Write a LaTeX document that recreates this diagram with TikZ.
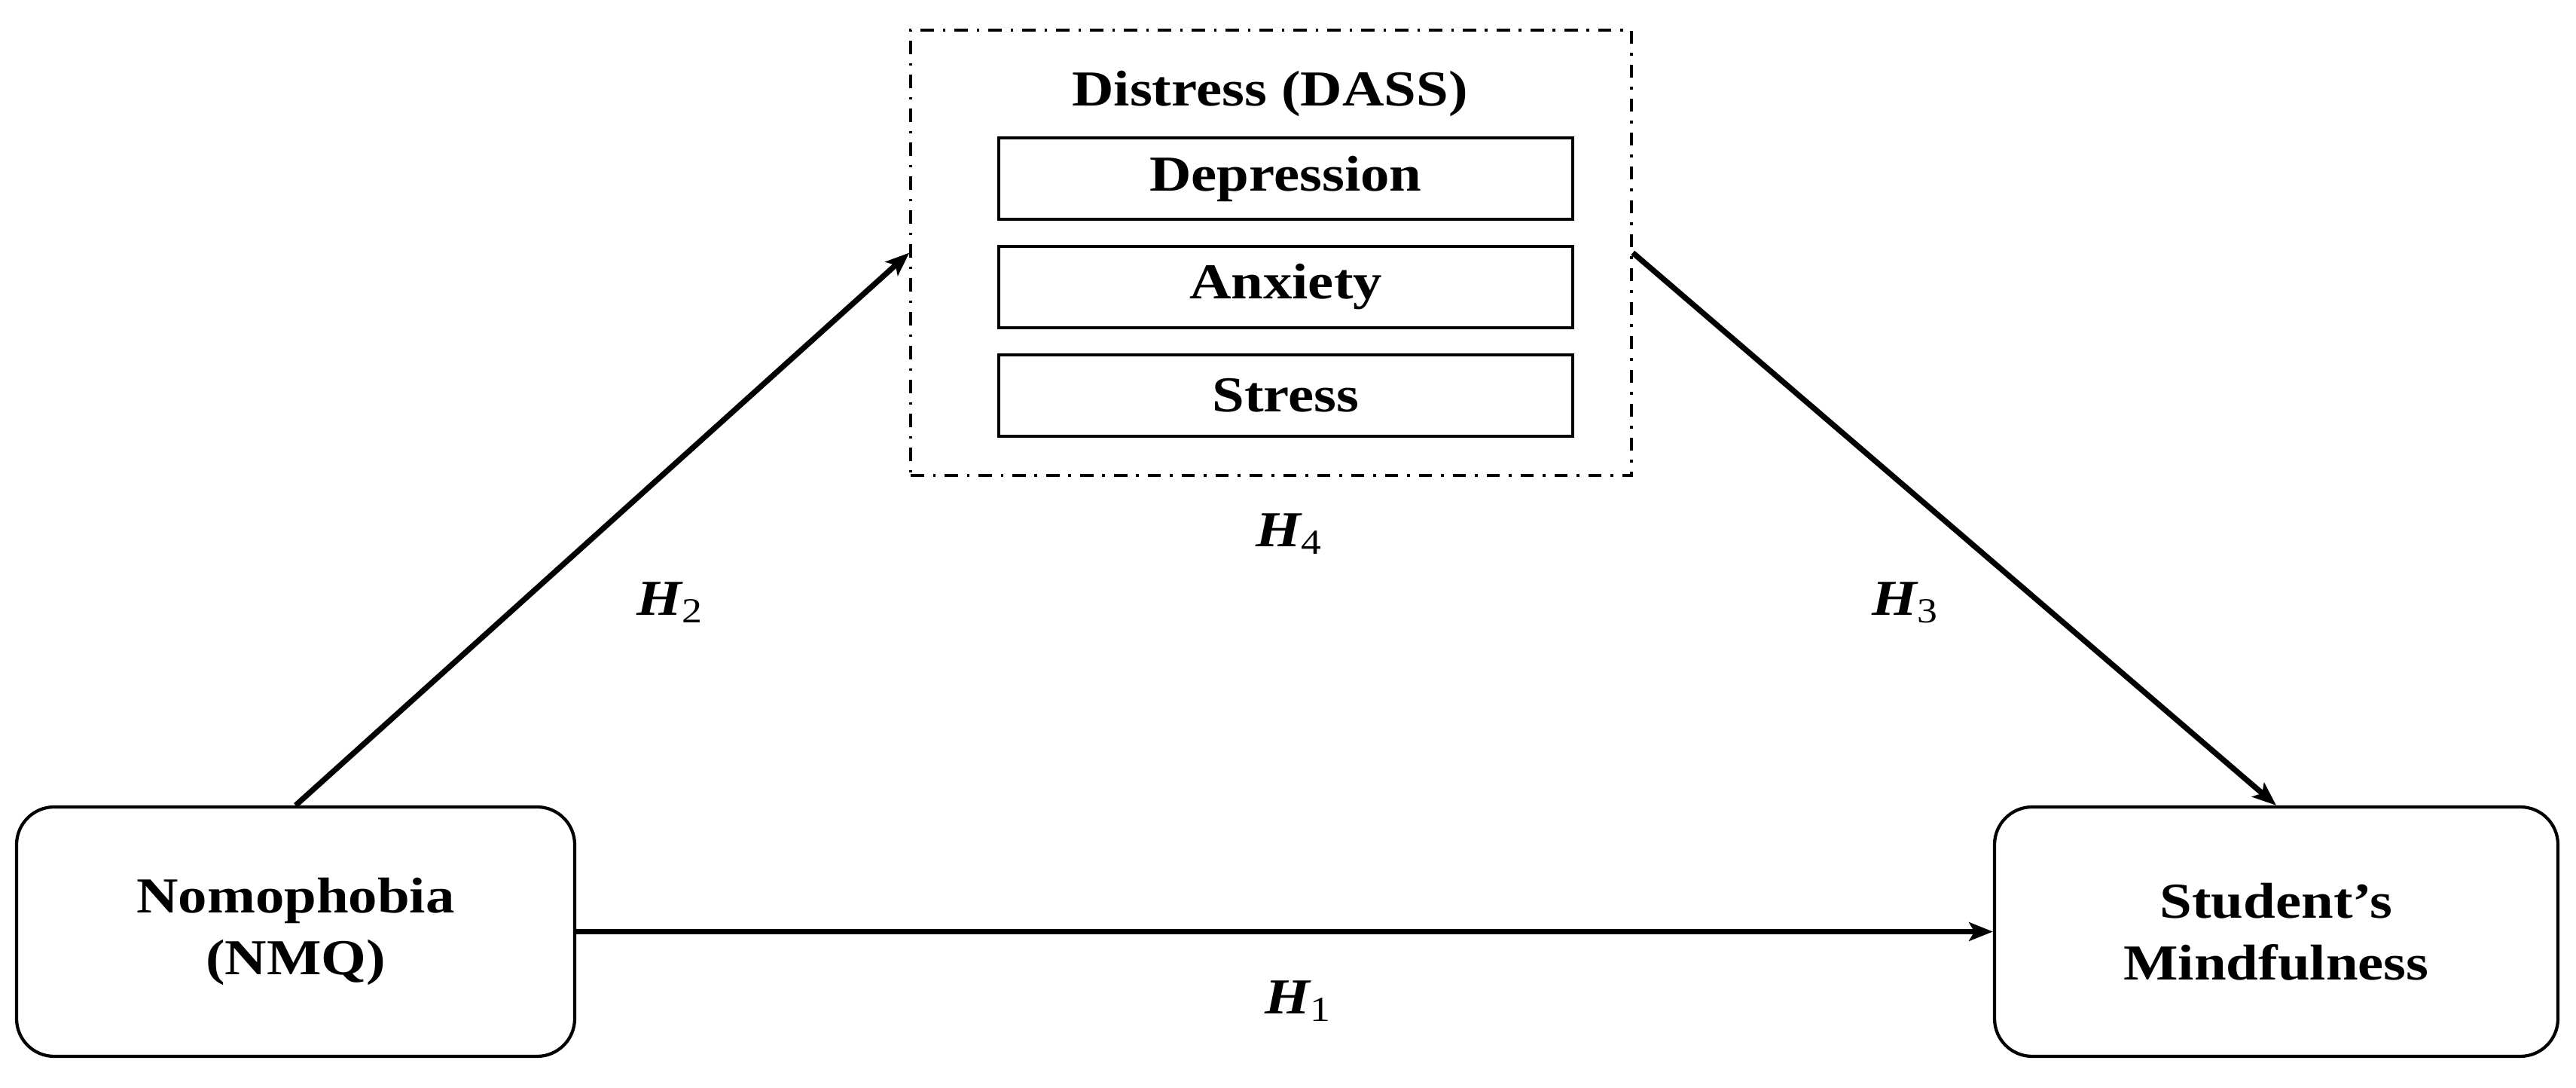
\documentclass[tikz,border=0pt]{standalone}
\usepackage{fontspec}
\setmainfont[FakeStretch=1.15]{Liberation Serif}
\usetikzlibrary{arrows.meta,positioning}

\begin{document}
\begin{tikzpicture}[-,>={Stealth[length=9pt,width=7pt,inset=2pt]},auto,node distance=0.32cm,
  line width=2.1pt,
  var node/.style={rectangle,rounded corners=0.5cm,draw,line width=1.2pt,minimum width=7.41cm,
    minimum height=3.31cm,align=center,font=\fontsize{19}{23.3}\selectfont\bfseries},
  dim node/.style={rectangle,draw,line width=1.1pt,minimum width=7.62cm,minimum height=1.08cm,
    font=\fontsize{19}{23.3}\selectfont\bfseries},
  hyp node/.style={font=\fontsize{19}{23}\selectfont\bfseries\itshape}]

  \useasboundingbox (0,0) rectangle (34.2,14.44);

  \node[var node] (nmq) at (3.925,2.075) {Nomophobia\\(NMQ)};
  \node[var node,minimum width=7.48cm] (mind) at (30.22,2.075) {Student's\\Mindfulness};

  \node[dim node] (dep) at (17.07,12.07) {Depression};
  \node[dim node] (anx) [below=of dep] {Anxiety};
  \node[dim node] (str) [below=of anx] {Stress};
  \node[anchor=base,font=\fontsize{19}{23.3}\selectfont\bfseries] (title) at (16.86,13.03) {Distress (DASS)};
  \node[draw,line width=1pt,dash pattern=on 5pt off 3.4pt on 1pt off 3.4pt,
    minimum width=9.57cm,minimum height=5.91cm] (dass) at (16.875,11.085) {};

  \path[->]
  (nmq) edge (mind)
  (nmq.north) edge (dass.west)
  (dass.east) edge (mind.north);

  \node[hyp node] (h1) at (17.24,1.15) {H\textsubscript{\normalfont 1}};
  \node[hyp node] (h2) at (8.90,6.44) {H\textsubscript{\normalfont 2}};
  \node[hyp node] (h3) at (25.30,6.44) {H\textsubscript{\normalfont 3}};
  \node[hyp node] (h4) at (17.12,7.35) {H\textsubscript{\normalfont 4}};
\end{tikzpicture}
\end{document}
